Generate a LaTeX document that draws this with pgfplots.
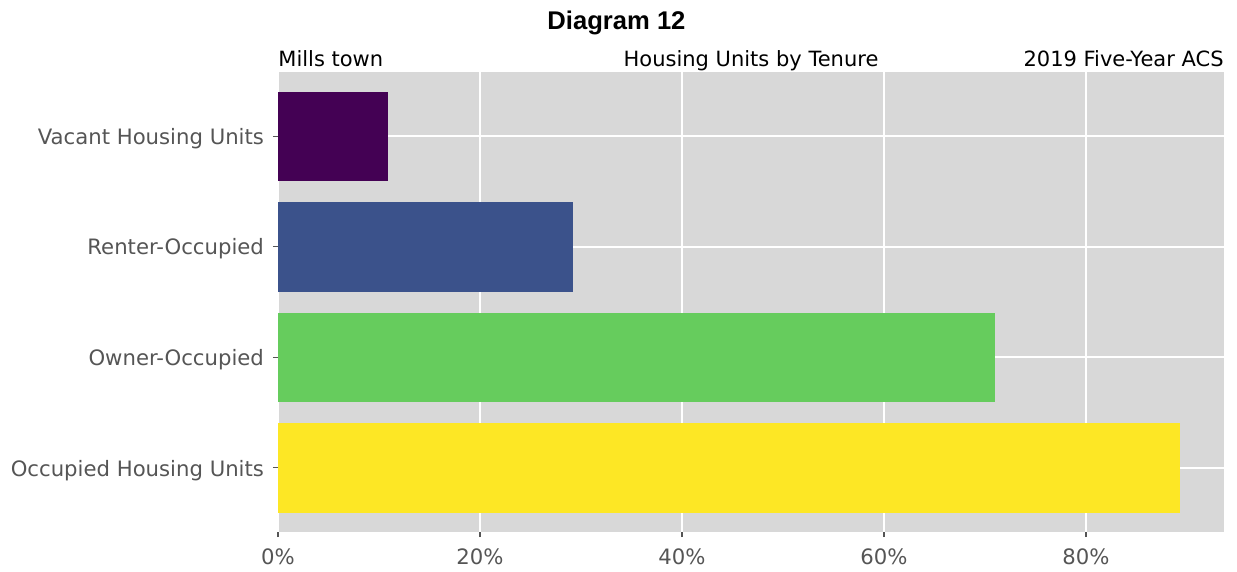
\documentclass[border=0pt]{standalone}
\usepackage{fontspec}
\setmainfont{DejaVu Sans}
\newfontfamily\titlefont{Liberation Sans}
\usepackage{pgfplots}
\pgfplotsset{compat=1.18}
\definecolor{bgcol}{HTML}{D8D8D8}
\definecolor{tickgray}{HTML}{555555}
\definecolor{cVac}{HTML}{440154}
\definecolor{cRen}{HTML}{3B528B}
\definecolor{cOwn}{HTML}{66CC5D}
\definecolor{cOcc}{HTML}{FDE725}
\begin{document}
\begin{tikzpicture}
\begin{axis}[
  scale only axis,
  width=473pt, height=230pt,
  xbar, bar width=0.8, bar shift=0pt,
  xmin=0, xmax=93.66, ymin=-0.58, ymax=3.58,
  ytick={0,1,2,3},
  yticklabels={Occupied Housing Units, Owner-Occupied, Renter-Occupied, Vacant Housing Units},
  xtick={0,20,40,60,80},
  xticklabel={\pgfmathprintnumber{\tick}\%},
  /pgf/number format/assume math mode=true,
  grid=major,
  major grid style={white, line width=0.8pt},
  axis background/.style={fill=bgcol},
  axis line style={draw=none},
  tick align=outside,
  xtick pos=bottom, ytick pos=left,
  major tick length=2.5pt,
  tick style={tickgray, line width=0.6pt},
  ticklabel style={font=\fontsize{10.6}{12}\selectfont, text=tickgray},
  xticklabel style={yshift=-2.5pt},
  yticklabel style={xshift=-1pt, yshift=-1.2pt},
  clip=false,
]
\addplot[draw=cOcc, fill=cOcc] coordinates {(89.2,0)};
\addplot[draw=cOwn, fill=cOwn] coordinates {(70.9,1)};
\addplot[draw=cRen, fill=cRen] coordinates {(29.1,2)};
\addplot[draw=cVac, fill=cVac] coordinates {(10.8,3)};
\end{axis}
\node[anchor=base west, inner sep=0pt, font=\fontsize{10.5}{12}\selectfont] at ([yshift=3pt]current axis.north west) {Mills town};
\node[anchor=base, inner sep=0pt, font=\fontsize{10.5}{12}\selectfont] at ([yshift=3pt]current axis.north) {Housing Units by Tenure};
\node[anchor=base east, inner sep=0pt, font=\fontsize{10.5}{12}\selectfont] at ([yshift=3pt]current axis.north east) {2019 Five-Year ACS};
\node[anchor=base, inner sep=0pt, font=\titlefont\bfseries\fontsize{12.8}{14}\selectfont] at ([shift={(169.25pt,21.5pt)}]current axis.north west) {Diagram 12};
\path[use as bounding box] ([shift={(-139pt,-19.5pt)}]current axis.south west) rectangle ([shift={(6.5pt,36pt)}]current axis.north east);
\end{tikzpicture}
\end{document}
